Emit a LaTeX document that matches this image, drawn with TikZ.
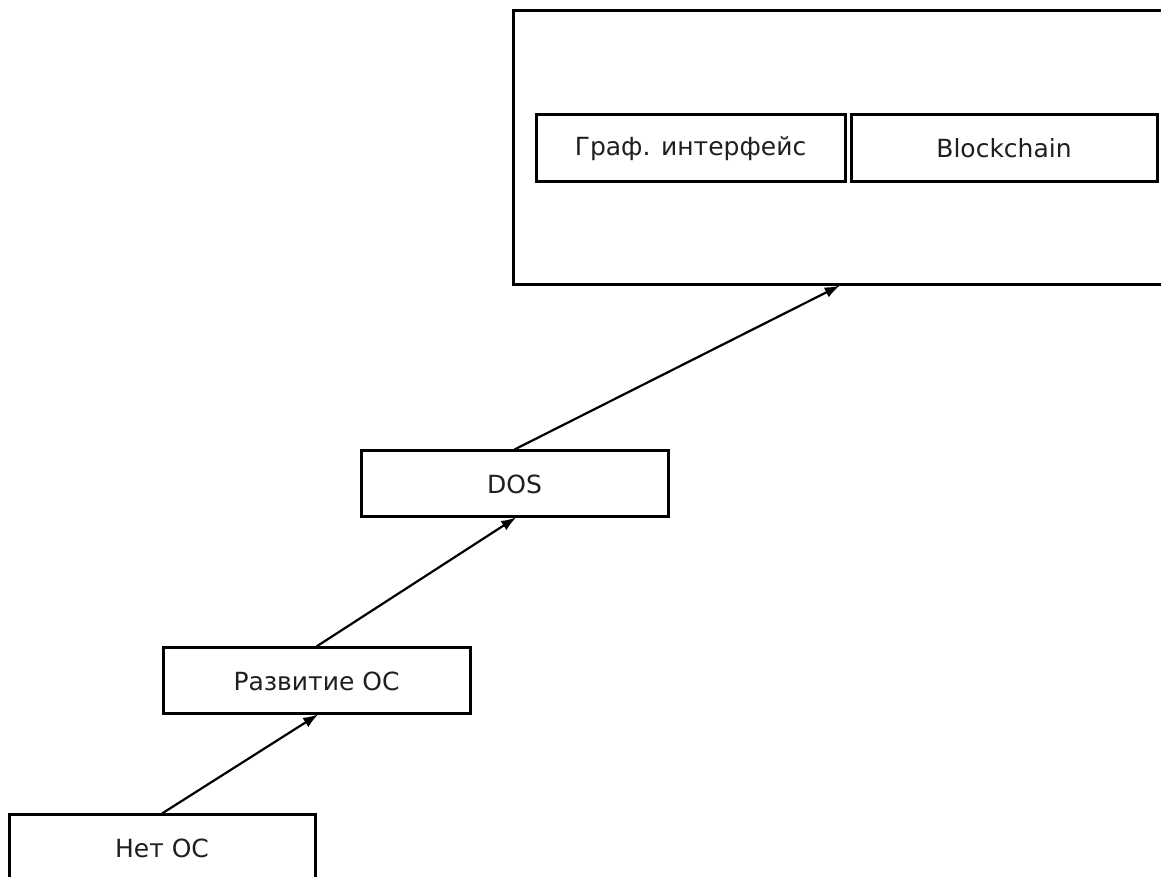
\documentclass[tikz,border=0pt]{standalone}
\usepackage{fontspec}
\setmainfont{DejaVu Sans}
\usetikzlibrary{arrows.meta}
\begin{document}
\begin{tikzpicture}[x=1pt,y=1pt,
  box/.style={draw=black,line width=3pt,fill=white,inner sep=0pt,
    font=\fontsize{25}{29}\selectfont,text=black!88},
  conn/.style={draw=black,line width=2.2pt,shorten >=-2pt,-{Latex[length=15pt,width=11pt]}}]
\useasboundingbox (0,0) rectangle (1161,877);
\clip (0,0) rectangle (1161,877);
\fill[white] (0,0) rectangle (1161,877);
\node[box,minimum width=650pt,minimum height=274pt] (big) at (838,729) {};
\node[box,minimum width=309pt,minimum height=67pt] (gui) at (690.5,728.5) {Граф. интерфейс};
\node[box,minimum width=306pt,minimum height=67pt] (blk) at (1004,728.5) {Blockchain};
\node[box,minimum width=307pt,minimum height=66pt] (dos) at (514.5,393) {DOS};
\node[box,minimum width=307pt,minimum height=66pt] (razv) at (316.5,196) {Развитие ОС};
\node[box,minimum width=306pt,minimum height=66pt] (net) at (162,29) {Нет ОС};
\draw[conn] (net.north) -- (razv.south);
\draw[conn] (razv.north) -- (dos.south);
\draw[conn] (dos.north) -- (big.south);
\end{tikzpicture}
\end{document}
